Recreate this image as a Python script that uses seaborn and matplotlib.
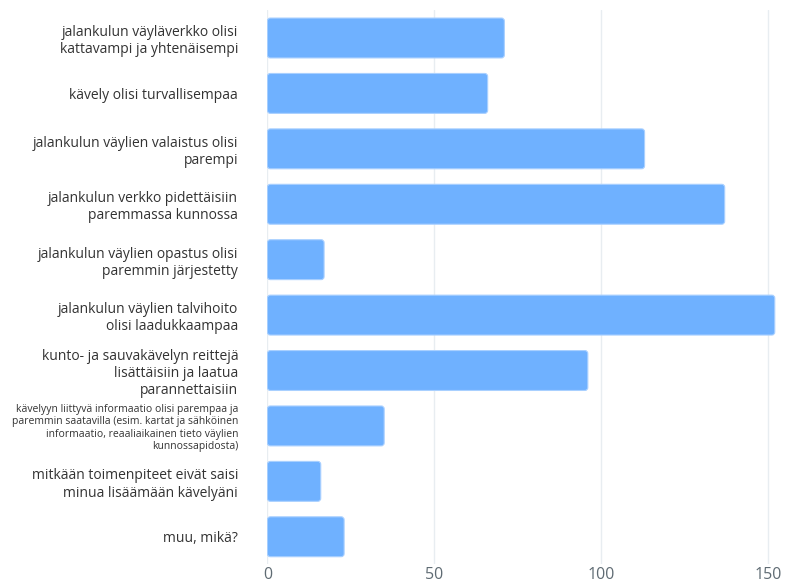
"""Horizontal bar chart: what would make people walk more."""

import matplotlib

matplotlib.use("Agg", force=True)

import matplotlib.pyplot as plt
import pandas as pd
import seaborn as sns
from matplotlib.patches import FancyBboxPatch

categories = [
    "jalankulun väyläverkko olisi\nkattavampi ja yhtenäisempi",
    "kävely olisi turvallisempaa",
    "jalankulun väylien valaistus olisi\nparempi",
    "jalankulun verkko pidettäisiin\nparemmassa kunnossa",
    "jalankulun väylien opastus olisi\nparemmin järjestetty",
    "jalankulun väylien talvihoito\nolisi laadukkaampaa",
    "kunto- ja sauvakävelyn reittejä\nlisättäisiin ja laatua\nparannettaisiin",
    "kävelyyn liittyvä informaatio olisi parempaa ja\nparemmin saatavilla (esim. kartat ja sähköinen\n"
    "informaatio, reaaliaikainen tieto väylien\nkunnossapidosta)",
    "mitkään toimenpiteet eivät saisi\nminua lisäämään kävelyäni",
    "muu, mikä?",
]
counts = [71, 66, 113, 137, 17, 152, 96, 35, 16, 23]
x_ticks = [0, 50, 100, 150]

BAR_COLOR = "#6fb1ff"
GRID_COLOR = "#e8edf1"

sns.set_style("white")
plt.rcParams["font.family"] = ["Open Sans", "DejaVu Sans"]

data = pd.DataFrame({"category": categories, "count": counts})

fig = plt.figure(figsize=(7.98, 5.88), dpi=100)
ax = fig.add_axes([0.335, 0.04, 0.661, 0.9425])

sns.barplot(data=data, x="count", y="category", color=BAR_COLOR, width=0.72,
            saturation=1, ax=ax, zorder=3)

ax.set_xlim(0, 158)
ax.set_xticks(x_ticks)

# swap plain rectangles for slightly rounded ones
px_x = 0.661 * 798 / 158
px_y = 0.9425 * 588 / len(categories)
for patch in list(ax.patches):
    x0, y0 = patch.get_x(), patch.get_y()
    w, h = patch.get_width(), patch.get_height()
    rounded = FancyBboxPatch(
        (x0, y0), w, h,
        boxstyle=f"round,pad=0,rounding_size={3 / px_x:.3f}",
        mutation_aspect=px_x / px_y,
        facecolor=BAR_COLOR, edgecolor="#a9d0ff", linewidth=0.8, zorder=3,
    )
    patch.remove()
    ax.add_patch(rounded)

ax.grid(axis="x", color=GRID_COLOR, linewidth=1.0, zorder=0)
ax.grid(axis="y", visible=False)
for side in ax.spines.values():
    side.set_visible(False)

ax.set_xlabel("")
ax.set_ylabel("")
ax.tick_params(axis="x", length=0, pad=2, labelsize=11.5, labelcolor="#5f6b73")
ax.tick_params(axis="y", length=0, pad=21, labelcolor="#333333")
for i, lbl in enumerate(ax.get_yticklabels()):
    lbl.set_fontsize(7.5 if i == 7 else 10)
    lbl.set_horizontalalignment("right")
    lbl.set_multialignment("right")
    lbl.set_linespacing(1.15 if i == 7 else 1.2)

fig.savefig("out.png", dpi=100)
